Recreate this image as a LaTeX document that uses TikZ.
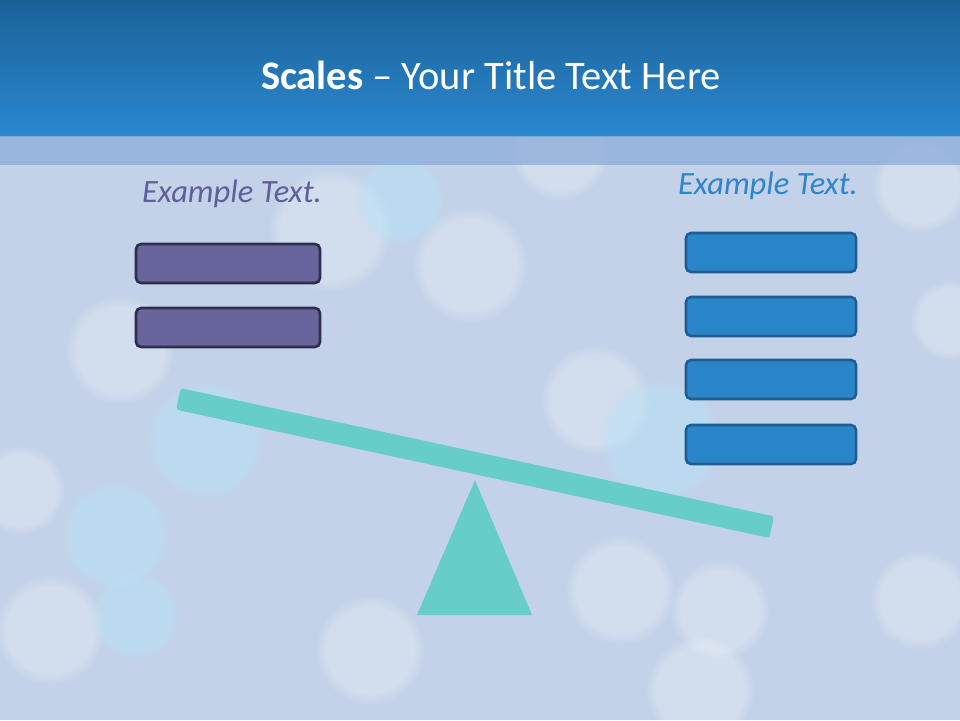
\documentclass[tikz,border=0pt]{standalone}
\usepackage{fontspec}
\setmainfont{Carlito}
\usetikzlibrary{fadings}
\definecolor{bodybg}{HTML}{C3D2E8}
\definecolor{hdtop}{HTML}{1C6198}
\definecolor{hdbot}{HTML}{2A88D0}
\definecolor{strip}{HTML}{8FAFDC}
\definecolor{lfill}{HTML}{67659C}
\definecolor{ldraw}{HTML}{2E2F4E}
\definecolor{rfill}{HTML}{2A86C9}
\definecolor{rdraw}{HTML}{1E5D92}
\definecolor{teal}{HTML}{67CDC9}
\definecolor{ltext}{HTML}{5F5F9A}
\definecolor{rtext}{HTML}{2E86C8}
\tikzset{
  x=1pt,y=-1pt,
  lbox/.style={draw=ldraw,fill=lfill,line width=2.6pt,rounded corners=5pt,minimum width=184pt,minimum height=39pt,inner sep=0pt},
  rbox/.style={draw=rdraw,fill=rfill,line width=2.6pt,rounded corners=5pt,minimum width=170pt,minimum height=39pt,inner sep=0pt},
  bokeh/.style={fill=white,fill opacity=0.25,path fading=circle with fuzzy edge 20 percent},
  cbokeh/.style={fill=cyan!30,fill opacity=0.4,path fading=circle with fuzzy edge 20 percent},
  extext/.style={font=\fontsize{32.5}{38}\selectfont\itshape}
}
\begin{document}
\begin{tikzpicture}
\useasboundingbox (0,0) rectangle (960,720);
% background
\fill[bodybg] (0,0) rectangle (960,720);
\begin{scope}
\clip (0,136) rectangle (960,720);
\fill[bokeh] (470,265) circle (58);
\fill[bokeh] (330,230) circle (62);
\fill[cbokeh] (400,200) circle (45);
\fill[bokeh] (120,350) circle (55);
\fill[cbokeh] (205,440) circle (60);
\fill[cbokeh] (115,535) circle (55);
\fill[bokeh] (50,630) circle (55);
\fill[cbokeh] (135,615) circle (45);
\fill[bokeh] (20,490) circle (45);
\fill[bokeh] (595,400) circle (55);
\fill[cbokeh] (660,440) circle (62);
\fill[bokeh] (620,590) circle (55);
\fill[bokeh] (720,610) circle (50);
\fill[bokeh] (920,185) circle (48);
\fill[bokeh] (950,320) circle (40);
\fill[bokeh] (920,600) circle (50);
\fill[bokeh] (370,650) circle (55);
\fill[bokeh] (560,150) circle (50);
\fill[bokeh] (700,690) circle (55);
\end{scope}
% header
\shade[top color=hdtop,bottom color=hdbot] (0,0) rectangle (960,136);
\fill[strip,opacity=0.8] (0,136) rectangle (960,165);
\node (title) [text=white,font=\fontsize{40.5}{46}\selectfont] at (491,75) {\textbf{Scales} – Your Title Text Here};
% labels
\node (lt) [extext,text=ltext] at (232,194) {Example Text.};
\node (rt) [extext,text=rtext] at (768,186) {Example Text.};
% left boxes
\node (l1) [lbox] at (228,263.5) {};
\node (l2) [lbox] at (228,327.5) {};
% right boxes
\node (r1) [rbox] at (771,252.5) {};
\node (r2) [rbox] at (771,316.5) {};
\node (r3) [rbox] at (771,379.5) {};
\node (r4) [rbox] at (771,444.5) {};
% scale
\coordinate (apex) at (475,480);
\coordinate (bl) at (417,615);
\coordinate (br) at (532,615);
\fill[teal] (apex) -- (bl) -- (br) -- cycle;
\node (beam) [fill=teal,rounded corners=3pt,minimum width=607pt,minimum height=22pt,inner sep=0pt,rotate=-12.2] at (475,463) {};
\end{tikzpicture}
\end{document}
